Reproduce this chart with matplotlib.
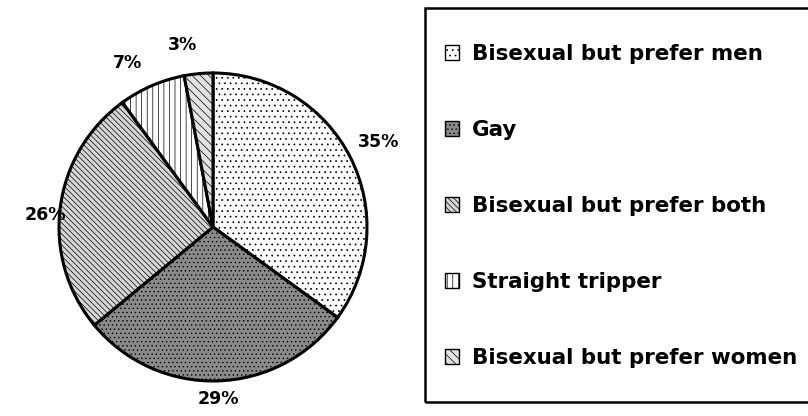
import matplotlib
matplotlib.use("Agg")
import matplotlib.pyplot as plt
from matplotlib.patches import Rectangle
import numpy as np

labels = ["Bisexual but prefer men", "Gay", "Bisexual but prefer both",
          "Straight tripper", "Bisexual but prefer women"]
values = [35, 29, 26, 7, 3]
pct_labels = ["35%", "29%", "26%", "7%", "3%"]

colors = ["white", "#8a8a8a", "#d6d6d6", "white", "#e2e2e2"]
hatches = ["...", "....", "\\\\\\\\\\\\", "|||", "\\\\\\\\"]

plt.rcParams['font.family'] = ['DejaVu Sans']
plt.rcParams['hatch.linewidth'] = 0.5

W, H = 808, 416
fig = plt.figure(figsize=(W / 100, H / 100), dpi=100)
cx, cy, r = 213, 227, 154
ax = fig.add_axes([(cx - r) / W, (H - cy - r) / H, 2 * r / W, 2 * r / H])
wedges, _ = ax.pie(values, startangle=90, counterclock=False, colors=colors,
                   wedgeprops=dict(edgecolor="black", linewidth=2.2),
                   radius=1.0)
for w, h in zip(wedges, hatches):
    w.set_hatch(h)
ax.set_xlim(-1, 1)
ax.set_ylim(-1, 1)
ax.set_aspect('equal')

ang = 90.0
lab_r = [1.21, 1.12, 1.09, 1.2, 1.2]
lab_shift = [0, 0, 3, 4, 4]
for v, t, lr, sh in zip(values, pct_labels, lab_r, lab_shift):
    mid = ang - v * 3.6 / 2 + sh
    ang -= v * 3.6
    x = lr * np.cos(np.radians(mid))
    y = lr * np.sin(np.radians(mid))
    ax.text(x, y, t, ha='center', va='center', fontsize=12.5, fontweight='bold',
            clip_on=False)

# legend frame
fig.patches.append(Rectangle((425 / W, (H - 402) / H), (W + 10 - 425) / W, 394 / H,
                             transform=fig.transFigure, fill=False,
                             edgecolor='black', linewidth=1.8))
leg = fig.legend(wedges, labels, loc='upper left',
                 bbox_to_anchor=(445 / W, (H - 44) / H),
                 frameon=False, prop=dict(size=15.4, weight='bold'),
                 labelspacing=2.62, handlelength=0.66, handleheight=0.66,
                 handletextpad=0.6, borderaxespad=0, borderpad=0)
for p in leg.get_patches():
    p.set_linewidth(1.0)
fig.savefig("out.png", dpi=100, facecolor='white')
